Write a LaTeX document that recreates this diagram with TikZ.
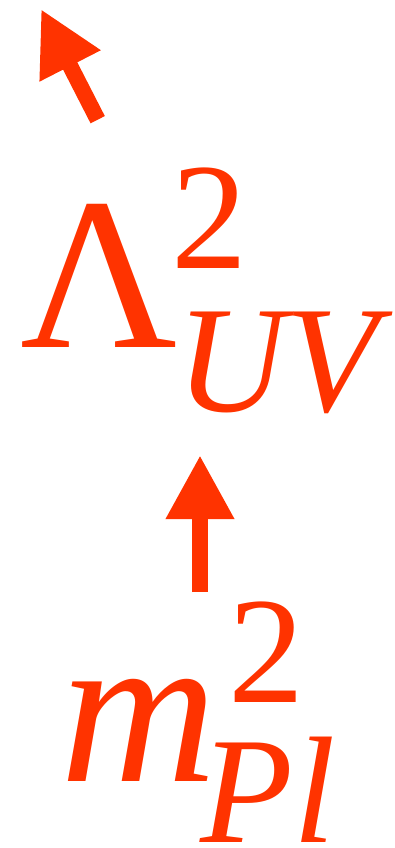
\documentclass[tikz,border=0pt]{standalone}
\usepackage{fontspec}
\setmainfont{Liberation Serif}
\usepackage{tikz}
\usetikzlibrary{arrows.meta,positioning}
\definecolor{hotred}{RGB}{255,51,0}

\begin{document}
\begin{tikzpicture}[x=1pt, y=-1pt,
    big/.style={inner sep=0pt, anchor=base west, text=hotred, font=\fontsize{217}{217}\selectfont},
    small/.style={inner sep=0pt, anchor=base west, text=hotred, font=\fontsize{152}{152}\selectfont},
    flow/.style={draw=hotred, line width=16pt, -{Triangle[length=64pt, width=64pt]}}
]
    \useasboundingbox (0,0) rectangle (394,848);
    % Upper label: cut-off scale
    \node[big] (lam) at (20,347) {Λ};
    \node[small] (lamsup) at (171,268) {2};
    \node[small] (lamsub) at (176,411) {\itshape UV};
    % Lower label: Planck mass
    \node[big] (m) at (60,781) {\itshape m};
    \node[small] (msup) at (228,702) {2};
    \node[small, text depth=0pt] (msub) at (200,842) {\itshape Pl};
    % arrows
    \coordinate (midtail) at (200,592);
    \coordinate (midtip) at (200,455);
    \coordinate (toptail) at (97.7,119.7);
    \coordinate (toptip) at (41,9);
    \draw[flow] (midtail) -- (midtip);
    \draw[flow] (toptail) -- (toptip);
\end{tikzpicture}
\end{document}
